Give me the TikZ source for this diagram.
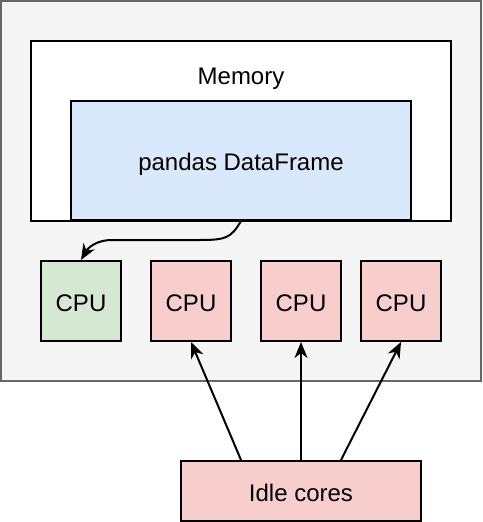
\documentclass[tikz,border=0pt]{standalone}
\usepackage{fontspec}
\setmainfont{Liberation Sans}
\usetikzlibrary{arrows.meta,calc}
\definecolor{outerfill}{HTML}{F5F5F5}
\definecolor{outerdraw}{HTML}{666666}
\definecolor{dfblue}{HTML}{DAE8FC}
\definecolor{cpugreen}{HTML}{D5E8D4}
\definecolor{cpured}{HTML}{F8CECC}
\begin{document}
\begin{tikzpicture}[x=1pt,y=-1pt,
  box/.style={draw, line width=2pt, inner sep=0pt, text height=20pt, text depth=0pt, font=\fontsize{24}{28}\selectfont},
  lbl/.style={inner sep=0pt, text height=20pt, text depth=0pt, font=\fontsize{24}{28}\selectfont},
  cpubox/.style={box, minimum width=80pt, minimum height=80pt},
  conn/.style={line width=2pt, -{Stealth[length=16pt,width=13pt,inset=5pt]}}]
\useasboundingbox (0,0) rectangle (482,522);
\node[box, draw=outerdraw, fill=outerfill, minimum width=480pt, minimum height=380pt] (outer) at (241,191) {};
\node[box, fill=white, minimum width=420pt, minimum height=180pt] (mem) at (241,131) {};
\node[lbl] (memlabel) at (241,74) {Memory};
\node[box, fill=dfblue, minimum width=340pt, minimum height=119pt] (df) at (241,160.5) {pandas DataFrame};
\node[cpubox, fill=cpugreen] (cpu1) at (81,301) {CPU};
\node[cpubox, fill=cpured] (cpu2) at (191,301) {CPU};
\node[cpubox, fill=cpured] (cpu3) at (301,301) {CPU};
\node[cpubox, fill=cpured] (cpu4) at (401,301) {CPU};
\node[box, fill=cpured, minimum width=240pt, minimum height=60pt] (idle) at (301,491) {Idle cores};
\coordinate (i1) at ($(idle.north)+(-60,0)$);
\coordinate (i3) at ($(idle.north)+(40,0)$);
\draw[conn] (df.south) .. controls (231,238) and (226,240) .. (200,240) -- (112,240) .. controls (96,240) and (88,248) .. (cpu1.north);
\draw[conn] (i1) -- (cpu2.south);
\draw[conn] (idle.north) -- (cpu3.south);
\draw[conn] (i3) -- (cpu4.south);
\end{tikzpicture}
\end{document}
